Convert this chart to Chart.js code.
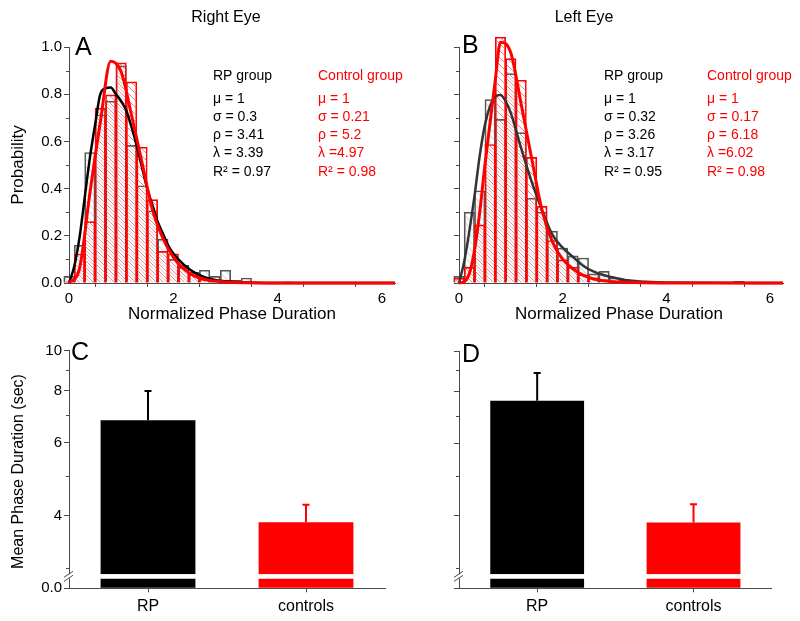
<!DOCTYPE html>
<html>
<head>
<meta charset="utf-8">
<script src="https://cdn.jsdelivr.net/npm/chart.js@4.4.1/dist/chart.umd.min.js"></script>
<style>
  html, body { margin: 0; padding: 0; background: #fff; }
  #wrap { position: relative; width: 800px; height: 621px; overflow: hidden; }
  canvas { position: absolute; }
</style>
</head>
<body>
<div id="wrap">
  <canvas id="chartA" width="420" height="330" style="left:0px;top:0px"></canvas>
  <canvas id="chartB" width="400" height="330" style="left:400px;top:0px"></canvas>
  <canvas id="chartC" width="400" height="291" style="left:0px;top:330px"></canvas>
  <canvas id="chartD" width="400" height="291" style="left:400px;top:330px"></canvas>
</div>
<script>
// ---- data ----
// histogram bin centres (bin width 0.2)
const binCentres = [0, 0.2, 0.4, 0.6, 0.8, 1.0, 1.2, 1.4, 1.6, 1.8, 2.0, 2.2, 2.4, 2.6,
  2.8, 3.0, 3.2, 3.4, 3.6, 3.8, 4.0, 4.2, 4.4, 4.6, 4.8, 5.0, 5.2, 5.4];

// right eye (A)
const rpHistA = [0.028, 0.16, 0.553, 0.713, 0.77, 0.92, 0.583, 0.412, 0.306, 0.186, 0.10, 0.075, 0.045, 0.054,
  0.028, 0.054, 0.011, 0.021, null, null, null, 0.005, null, null, null, null, null, null];
const ctrlHistA = [0.005, 0.123, 0.26, 0.741, 0.797, 0.933, 0.852, 0.576, 0.353, 0.134, 0.124, 0.066, 0.035, 0.016,
  0.008, 0.004, null, null, null, null, null, null, null, null, null, null, null, null];
const rpFitXA = [0, 0.1, 0.2, 0.3, 0.4, 0.5, 0.6, 0.7, 0.8, 0.9, 1.0, 1.1, 1.2, 1.3, 1.4, 1.5, 1.6, 1.7, 1.8, 1.9,
  2.0, 2.2, 2.4, 2.6, 2.8, 3.0, 3.4, 4.0, 6.25];
const rpFitYA = [0, 0.07, 0.19, 0.36, 0.53, 0.67, 0.80, 0.825, 0.828, 0.80, 0.77, 0.73, 0.66, 0.58, 0.49, 0.40, 0.33, 0.26, 0.21, 0.16,
  0.125, 0.078, 0.045, 0.025, 0.013, 0.007, 0.002, 0, 0];
const ctrlFitXA = [0, 0.2, 0.4, 0.6, 0.8, 1.0, 1.2, 1.4, 1.6, 1.8, 2.0, 2.2, 2.4, 2.6, 2.8, 3.0, 3.4, 4.0, 6.25];
const ctrlFitYA = [0, 0.06, 0.38, 0.68, 0.94, 0.895, 0.71, 0.51, 0.31, 0.19, 0.11, 0.06, 0.03, 0.015, 0.008, 0.004, 0.001, 0, 0];

// left eye (B)
const rpHistB = [0.028, 0.30, 0.391, 0.777, 0.693, 0.887, 0.637, 0.359, 0.30, 0.22, 0.148, 0.115, 0.106, 0.039,
  0.049, 0.021, 0.014, 0.007, 0.007, null, null, null, null, null, null, null, null, 0.007];
const ctrlHistB = [0.02, 0.066, 0.246, 0.587, 1.042, 0.951, 0.859, 0.532, 0.325, 0.18, 0.098, 0.066, 0.035, 0.022,
  0.014, 0.005, null, null, null, null, null, null, null, null, null, null, null, null];
const rpFitXB = [0, 0.1, 0.2, 0.3, 0.4, 0.5, 0.6, 0.7, 0.8, 0.9, 1.0, 1.2, 1.4, 1.6, 1.8, 2.0, 2.2, 2.4, 2.6,
  2.8, 3.0, 3.2, 3.4, 3.6, 4.0, 6.25];
const rpFitYB = [0, 0.09, 0.22, 0.37, 0.54, 0.67, 0.75, 0.79, 0.797, 0.77, 0.72, 0.57, 0.43, 0.31, 0.205, 0.15, 0.11, 0.072, 0.048,
  0.033, 0.022, 0.013, 0.008, 0.005, 0.002, 0];
const ctrlFitXB = [0, 0.1, 0.2, 0.3, 0.4, 0.5, 0.6, 0.7, 0.8, 1.0, 1.2, 1.4, 1.6, 1.8, 2.0, 2.2, 2.4, 2.6, 2.8, 3.0, 3.4, 4.0, 6.25];
const ctrlFitYB = [0, 0.005, 0.04, 0.14, 0.30, 0.50, 0.68, 0.86, 1.02, 0.975, 0.757, 0.53, 0.31, 0.175, 0.10, 0.06, 0.032, 0.017, 0.009, 0.005, 0.002, 0, 0];

// fit parameters printed in the panels
const rpStatsA = ['μ = 1', 'σ = 0.3', 'ρ = 3.41', 'λ = 3.39', 'R² = 0.97'];
const ctrlStatsA = ['μ = 1', 'σ = 0.21', 'ρ = 5.2', 'λ =4.97', 'R² = 0.98'];
const rpStatsB = ['μ = 1', 'σ = 0.32', 'ρ = 3.26', 'λ = 3.17', 'R² = 0.95'];
const ctrlStatsB = ['μ = 1', 'σ = 0.17', 'ρ = 6.18', 'λ =6.02', 'R² = 0.98'];

// mean phase duration bars (C right eye, D left eye)
const groups = ['RP', 'controls'];
const meanC = [6.8, 3.86];
const errC = [1.2, 0.39];
const meanD = [7.6, 3.86];
const errD = [1.27, 0.41];

// tick values
const histXTicks = [0, 1, 2, 3, 4, 5, 6];
const histYTicks = [0, 0.2, 0.4, 0.6, 0.8, 1.0];
const histYMinor = [0.1, 0.3, 0.5, 0.7, 0.9];
const logTicks = [4, 6, 8, 10];
const logMinor = [3, 5, 7, 9];

// ---- styling ----
const FONT = "'Liberation Sans', Arial, sans-serif";
const AXIS = '#4a4a4a';
const RED = '#ff0000';
const barColors = ['#000000', RED];

Chart.defaults.font.family = FONT;
Chart.defaults.font.size = 15;
Chart.defaults.color = '#000';
Chart.defaults.animation = false;
Chart.defaults.plugins.legend.display = false;
Chart.defaults.plugins.tooltip.enabled = false;

function pts(xs, ys) {
  return xs.map((x, i) => ({ x: x, y: ys[i] }));
}

// diagonal hatch "\" for the histogram bars
function hatch(color, shift) {
  const size = 7;
  const c = document.createElement('canvas');
  c.width = size; c.height = size;
  const g = c.getContext('2d');
  g.strokeStyle = color;
  g.lineWidth = 1;
  for (let k = -1; k <= 1; k++) {
    g.beginPath();
    g.moveTo(shift + k * size, 0);
    g.lineTo(shift + k * size + size, size);
    g.stroke();
  }
  return g.createPattern(c, 'repeat');
}
const redHatch = hatch('rgba(240,90,90,0.75)', 0);
const grayHatch = hatch('rgba(150,150,150,0.55)', 3.5);

// short minor ticks on a left axis
function minorTicks(scaleId, values, len) {
  return {
    id: 'minor_' + scaleId,
    afterDraw(chart) {
      const s = chart.scales[scaleId];
      const ctx = chart.ctx;
      ctx.save();
      ctx.strokeStyle = AXIS;
      ctx.lineWidth = 1;
      values.forEach(v => {
        const y = Math.round(s.getPixelForValue(v)) + 0.5;
        ctx.beginPath();
        ctx.moveTo(s.right - len, y);
        ctx.lineTo(s.right, y);
        ctx.stroke();
      });
      ctx.restore();
    }
  };
}

// free text (panel letters, titles, fit parameters)
function textLayer(items) {
  return {
    id: 'texts',
    afterDraw(chart) {
      const ctx = chart.ctx;
      items.forEach(t => {
        ctx.save();
        ctx.font = (t.size || 14) + 'px ' + FONT;
        ctx.fillStyle = t.color || '#000';
        ctx.textAlign = t.align || 'left';
        ctx.textBaseline = t.base || 'alphabetic';
        ctx.translate(t.x, t.y);
        if (t.rot) ctx.rotate(t.rot);
        ctx.fillText(t.text, 0, 0);
        ctx.restore();
      });
    }
  };
}

const statBaselines = [79.5, 102.7, 120.5, 139, 157, 176.3];
function statBlock(title, lines, x, color) {
  return [title].concat(lines).map((txt, i) => ({ text: txt, x: x, y: statBaselines[i], color: color, size: 14 }));
}

// error bars drawn upward from the top of each bar
const errorBars = {
  id: 'errorBars',
  afterDatasetsDraw(chart) {
    const ctx = chart.ctx;
    chart.data.datasets.forEach((ds, i) => {
      if (!ds.errors) return;
      const meta = chart.getDatasetMeta(i);
      const ys = chart.scales[meta.yAxisID];
      meta.data.forEach((bar, j) => {
        const top = ys.getPixelForValue(ds.data[j] + ds.errors[j]);
        ctx.save();
        ctx.strokeStyle = barColors[j];
        ctx.lineWidth = 2;
        ctx.beginPath();
        ctx.moveTo(bar.x, bar.y);
        ctx.lineTo(bar.x, top);
        ctx.moveTo(bar.x - 3.5, top);
        ctx.lineTo(bar.x + 3.5, top);
        ctx.stroke();
        ctx.restore();
      });
    });
  }
};

// "//" break on the y axis between the two stacked scales
const axisBreak = {
  id: 'axisBreak',
  afterDraw(chart) {
    const s = chart.scales.yLow;
    const ctx = chart.ctx;
    const x = s.right;
    const y = s.top + 2;
    ctx.save();
    ctx.fillStyle = '#fff';
    ctx.fillRect(x - 2, y - 2, 4, 4);
    ctx.strokeStyle = AXIS;
    ctx.lineWidth = 1;
    [-2, 2].forEach(d => {
      ctx.beginPath();
      ctx.moveTo(x - 5, y + d + 3);
      ctx.lineTo(x + 4, y + d - 3);
      ctx.stroke();
    });
    ctx.restore();
  }
};

function histChart(id, o) {
  return new Chart(document.getElementById(id), {
    type: 'bar',
    data: {
      datasets: [
        { type: 'line', data: pts(o.ctrlFitX, o.ctrlFitY), borderColor: RED, borderWidth: 3, pointRadius: 0,
          cubicInterpolationMode: 'monotone', clip: false, order: 0 },
        { type: 'line', data: pts(o.rpFitX, o.rpFitY), borderColor: o.rpLine, borderWidth: 2.5, pointRadius: 0,
          cubicInterpolationMode: 'monotone', clip: false, order: 1 },
        { data: pts(binCentres, o.ctrlHist), backgroundColor: redHatch, borderColor: RED, borderWidth: 1,
          grouped: false, barPercentage: 1, categoryPercentage: 1, clip: false, order: 2 },
        { data: pts(binCentres, o.rpHist), backgroundColor: grayHatch, borderColor: '#555', borderWidth: 1,
          grouped: false, barPercentage: 1, categoryPercentage: 1, clip: false, order: 3 }
      ]
    },
    options: {
      responsive: false,
      layout: { padding: { left: 0, top: 47, right: o.padRight, bottom: 0 } },
      scales: {
        x: {
          type: 'linear', min: 0, max: 6.25, offset: false, bounds: 'data',
          afterBuildTicks: s => { s.ticks = histXTicks.map(v => ({ value: v })); },
          ticks: { callback: v => (v % 2 === 0 ? String(v) : ''), padding: 3, maxRotation: 0, autoSkip: false },
          grid: { drawOnChartArea: false, tickLength: 4, color: AXIS },
          border: { color: AXIS },
          afterFit: s => { s.height = 47; }
        },
        y: {
          min: 0, max: 1, bounds: 'data',
          afterBuildTicks: s => { s.ticks = histYTicks.map(v => ({ value: v })); },
          ticks: { display: o.yLabels, callback: v => v.toFixed(1), padding: 2 },
          grid: { drawOnChartArea: false, tickLength: 5, color: AXIS },
          border: { color: AXIS },
          afterFit: s => { s.width = o.yWidth; }
        }
      }
    },
    plugins: [minorTicks('y', histYMinor, 3), textLayer(o.texts)]
  });
}

function meanChart(id, o) {
  const stub = 1.0;
  return new Chart(document.getElementById(id), {
    type: 'bar',
    data: {
      labels: groups,
      datasets: [
        { data: o.means, yAxisID: 'yLog', backgroundColor: barColors, borderWidth: 0, grouped: false,
          barPercentage: 0.6, categoryPercentage: 1, errors: o.errs },
        { data: o.means.map(m => Math.min(m, stub)), yAxisID: 'yLow', backgroundColor: barColors, borderWidth: 0,
          grouped: false, barPercentage: 0.6, categoryPercentage: 1 }
      ]
    },
    options: {
      responsive: false,
      layout: { padding: { left: 0, top: o.padTop, right: o.padRight, bottom: 0 } },
      scales: {
        x: {
          offset: true,
          grid: { offset: false, drawOnChartArea: false, tickLength: 4, color: AXIS },
          border: { color: AXIS },
          ticks: { font: { size: 16 }, padding: 5 },
          afterFit: s => { s.height = 32.7; }
        },
        yLog: {
          type: 'logarithmic', position: 'left', stack: 'v', stackWeight: 223.6, weight: 1,
          min: 2.89, max: 10, bounds: 'data',
          afterBuildTicks: s => { s.ticks = logTicks.map(v => ({ value: v })); },
          ticks: { display: o.yLabels, callback: v => String(v), padding: 2 },
          grid: { drawOnChartArea: false, tickLength: 5, color: AXIS },
          border: { color: AXIS },
          afterFit: s => { s.width = o.yWidth; }
        },
        yLow: {
          type: 'linear', position: 'left', stack: 'v', stackWeight: 14, weight: 0,
          min: 0, max: 1.46, bounds: 'data',
          afterBuildTicks: s => { s.ticks = [{ value: 0 }]; },
          ticks: { display: o.yLabels, callback: v => v.toFixed(1), padding: 2 },
          grid: { drawOnChartArea: false, tickLength: 5, color: AXIS },
          border: { color: AXIS },
          afterFit: s => { s.width = o.yWidth; }
        }
      }
    },
    plugins: [errorBars, axisBreak, minorTicks('yLog', logMinor, 3), textLayer(o.texts)]
  });
}

document.addEventListener('DOMContentLoaded', function() {
  histChart('chartA', {
    rpHist: rpHistA, ctrlHist: ctrlHistA,
    rpFitX: rpFitXA, rpFitY: rpFitYA, ctrlFitX: ctrlFitXA, ctrlFitY: ctrlFitYA,
    rpLine: '#000', yWidth: 69, padRight: 25, yLabels: true,
    texts: [
      { text: 'Right Eye', x: 226, y: 18, size: 16, align: 'center', base: 'middle' },
      { text: 'A', x: 75, y: 55, size: 25 },
      { text: 'Probability', x: 18, y: 165, size: 17, align: 'center', base: 'middle', rot: -Math.PI / 2 },
      { text: 'Normalized Phase Duration', x: 232, y: 314, size: 17, align: 'center', base: 'middle' }
    ].concat(statBlock('RP group', rpStatsA, 213, '#000'), statBlock('Control group', ctrlStatsA, 318, RED))
  });

  histChart('chartB', {
    rpHist: rpHistB, ctrlHist: ctrlHistB,
    rpFitX: rpFitXB, rpFitY: rpFitYB, ctrlFitX: ctrlFitXB, ctrlFitY: ctrlFitYB,
    rpLine: '#333', yWidth: 59, padRight: 17, yLabels: false,
    texts: [
      { text: 'Left Eye', x: 184, y: 18, size: 16, align: 'center', base: 'middle' },
      { text: 'B', x: 62, y: 53, size: 25 },
      { text: 'Normalized Phase Duration', x: 219, y: 314, size: 17, align: 'center', base: 'middle' }
    ].concat(statBlock('RP group', rpStatsB, 204, '#000'), statBlock('Control group', ctrlStatsB, 307, RED))
  });

  meanChart('chartC', {
    means: meanC, errs: errC, yWidth: 69, padTop: 20.7, padRight: 15, yLabels: true,
    texts: [
      { text: 'C', x: 71, y: 30, size: 25 },
      { text: 'Mean Phase Duration (sec)', x: 19, y: 141.5, size: 16, align: 'center', base: 'middle', rot: -Math.PI / 2 }
    ]
  });

  meanChart('chartD', {
    means: meanD, errs: errD, yWidth: 59, padTop: 21.5, padRight: 28.3, yLabels: false,
    texts: [
      { text: 'D', x: 62, y: 32, size: 25 }
    ]
  });
});
</script>
</body>
</html>
